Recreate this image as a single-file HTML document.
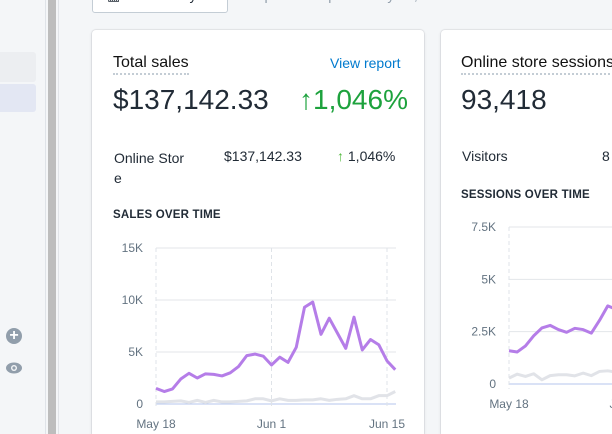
<!DOCTYPE html>
<html style="overflow:hidden;height:434px"><head><meta charset="utf-8"><style>
body{margin:0;width:612px;height:434px;overflow:hidden;background:#f4f6f8;font-family:"Liberation Sans",sans-serif;position:relative}
.a{position:absolute;white-space:nowrap}
.card{position:absolute;background:#fff;border-radius:4px;box-shadow:0 0 0 1px rgba(63,63,68,.07),0 1px 3px rgba(63,63,68,.15)}
.ttl{font-size:16px;color:#111;border-bottom:2px dotted #c4cdd5;padding-bottom:1px}
.big{font-size:28px;color:#212b36}
.cap{font-size:11.5px;font-weight:bold;color:#212b36;letter-spacing:.2px}
svg text{font-family:"Liberation Sans",sans-serif;font-size:12px;fill:#637381}
</style></head><body>
<div class="a" style="left:0;top:0;width:45px;height:434px;background:#f4f6f8;border-right:1px solid #dfe3e8"></div>
<div class="a" style="left:0;top:52px;width:36px;height:30px;background:#eceef1;border-radius:0 3px 3px 0"></div>
<div class="a" style="left:0;top:84px;width:36px;height:28px;background:#e3e7f3;border-radius:0 3px 3px 0"></div>
<div class="a" style="left:6px;top:328px;width:16px;height:16px;border-radius:50%;background:#919eab;color:#fff;font-size:16px;line-height:16px;text-align:center;font-weight:bold">+</div>
<svg class="a" style="left:5px;top:361px" width="18" height="14"><ellipse cx="9" cy="7" rx="8" ry="5.5" fill="#919eab"/><circle cx="9" cy="7" r="3" fill="#f4f6f8"/><circle cx="9" cy="7" r="1.6" fill="#919eab"/></svg>
<div class="a" style="left:48px;top:0;width:8px;height:434px;background:#bdbdbd"></div>
<div class="a" style="left:58px;top:0;width:1px;height:434px;background:#e1e4e8"></div>
<div class="a" style="left:92px;top:-16px;width:136px;height:29px;border:1px solid #c4cdd5;border-radius:3px;background:#fff;font-size:14px;color:#212b36;line-height:20px;padding-left:14px;box-sizing:border-box">▦ Last 30 days</div>
<div class="a" style="left:238px;top:-13px;font-size:14px;color:#919eab">compared to Apr 18–May 17, 2020</div>

<div class="card" style="left:92px;top:30px;width:332px;height:404px;border-radius:4px 4px 0 0"></div>
<div class="a ttl" style="left:113px;top:54px">Total sales</div>
<div class="a" style="left:330px;top:55px;font-size:14px;color:#007ace">View report</div>
<div class="a big" style="left:113px;top:84px">$137,142.33</div>
<div class="a" style="left:299px;top:84px;font-size:28px;color:#1da23d">↑1,046%</div>
<div class="a" style="left:114px;top:148px;font-size:14px;color:#212b36;line-height:20px;white-space:normal">Online Stor<br>e</div>
<div class="a" style="left:224px;top:148px;font-size:14px;color:#212b36">$137,142.33</div>
<div class="a" style="left:337px;top:148px;font-size:14px;color:#212b36"><span style="color:#50b83c">↑</span> 1,046%</div>
<div class="a cap" style="left:113px;top:209px">SALES OVER TIME</div>

<div class="card" style="left:441px;top:30px;width:200px;height:404px;border-radius:4px 4px 0 0"></div>
<div class="a ttl" style="left:461px;top:54px">Online store sessions</div>
<div class="a big" style="left:461px;top:84px">93,418</div>
<div class="a" style="left:462px;top:148px;font-size:14px;color:#212b36">Visitors</div>
<div class="a" style="left:602px;top:148px;font-size:14px;color:#212b36">8</div>
<div class="a cap" style="left:461px;top:189px">SESSIONS OVER TIME</div>

<svg id="c1" class="a" style="left:0;top:0" width="612" height="434"></svg>
<script>
const salesDates=["May 18","Jun 1","Jun 15"];
const salesTicks=[0,5000,10000,15000];
const salesTickLabels=["0","5K","10K","15K"];
const salesCurrent=[1500,1200,1450,2400,2950,2500,2900,2850,2700,3000,3600,4650,4800,4600,3750,4500,4000,5450,9300,9800,6700,8250,6800,5350,8350,5200,6200,5700,4150,3300];
const salesPrevious=[200,200,250,300,150,350,150,350,200,200,250,300,500,500,300,500,350,350,400,400,500,350,450,500,800,500,500,800,800,1200];
const sessTicks=[0,2500,5000,7500];
const sessTickLabels=["0","2.5K","5K","7.5K"];
const sessDates=["May 18","Jun 1"];
const sessCurrent=[1590,1530,1820,2300,2680,2800,2600,2470,2660,2600,2430,3040,3730,3570,3500,3600];
const sessPrevious=[280,470,360,490,200,400,440,440,390,520,400,600,630,570,600,620];
const NS="http://www.w3.org/2000/svg";
const svg=document.getElementById('c1');
function mk(t,a){const e=document.createElementNS(NS,t);for(const k in a)e.setAttribute(k,a[k]);svg.appendChild(e);return e;}
function chart(o){
 const x=i=>o.x0+i*o.dx, y=v=>o.y0-(v/o.max)*(o.y0-o.y1);
 o.ticks.forEach((t,i)=>{
  const g=mk('line',{x1:o.x0,x2:o.xe,y1:y(t),y2:y(t),stroke:i==0?'#b4c6ee':'#e3e6ea','stroke-width':1});
  
  
  const tx=mk('text',{x:o.x0-13,y:y(t)+4,'text-anchor':'end'});tx.textContent=o.labels[i];
  
  
 });
 o.dates.forEach((d,i)=>{
  const xi=x(i*14);
  const l=mk('line',{x1:xi,x2:xi,y1:o.y1,y2:o.y0+5,stroke:'#dfe3e8','stroke-dasharray':'4,3'});
  
  
  const tx=mk('text',{x:xi,y:o.y0+24,'text-anchor':'middle'});tx.textContent=d;
  
  
 });
 const p1=mk('polyline',{points:o.prev.map((v,i)=>x(i)+','+y(v)).join(' '),fill:'none',stroke:'#e1e3e8','stroke-width':3,'stroke-linejoin':'round'});
 
 
 const p2=mk('polyline',{points:o.cur.map((v,i)=>x(i)+','+y(v)).join(' '),fill:'none',stroke:'#b57de8','stroke-width':3,'stroke-linejoin':'round'});
 
 
}
chart({x0:156,xe:396,dx:8.25,y0:404,y1:248,max:15000,ticks:salesTicks,labels:salesTickLabels,dates:salesDates,cur:salesCurrent,prev:salesPrevious});
chart({x0:509,xe:640,dx:8.23,y0:384,y1:227,max:7500,ticks:sessTicks,labels:sessTickLabels,dates:sessDates,cur:sessCurrent,prev:sessPrevious});
</script>
</body></html>
